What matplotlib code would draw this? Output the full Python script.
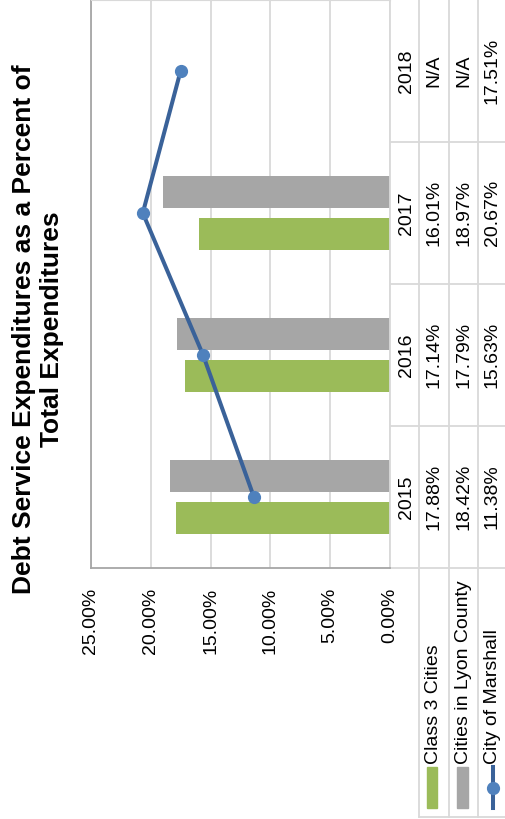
import numpy as np
import matplotlib.pyplot as plt
from matplotlib.transforms import blended_transform_factory
from matplotlib.patches import Rectangle

plt.rcParams['font.family'] = ['Liberation Sans', 'DejaVu Sans']

# data
years = ["2015", "2016", "2017", "2018"]
class3 = [17.88, 17.14, 16.01, np.nan]
lyon = [18.42, 17.79, 18.97, np.nan]
marshall = [11.38, 15.63, 20.67, 17.51]
series_names = ["Class 3 Cities", "Cities in Lyon County", "City of Marshall"]
value_ticks = [0, 5, 10, 15, 20, 25]
title = "Debt Service Expenditures as a Percent of\nTotal Expenditures"

GREEN = "#9BBB59"
GRAY = "#A6A6A6"
LINE = "#3A6299"
MARK = "#4F81BD"
GRID = "#D9D9D9"
BORDER = "#A6A6A6"
FS = 14

W, H = 505, 819
fig = plt.figure(figsize=(W / 100, H / 100), dpi=100)


def box(x0, y0, x1, y1):
    return [x0 / W, 1 - y1 / H, (x1 - x0) / W, (y1 - y0) / H]


# overlay in pixel coordinates (table, legend, title)
ov = fig.add_axes([0, 0, 1, 1])
ov.set_xlim(0, W)
ov.set_ylim(H, 0)
ov.axis("off")

# --- main chart (rotated: categories run upward, values leftward) ---
ax = fig.add_axes(box(91, 0, 390, 568))
pos = np.arange(len(years))
bw, off = 0.225, 0.145
ax.barh(pos - off, class3, height=bw, color=GREEN, zorder=2)
ax.barh(pos + off, lyon, height=bw, color=GRAY, zorder=2)
ax.plot(marshall, pos, color=LINE, lw=2.9, marker="o", ms=8.5,
        mfc=MARK, mec=MARK, zorder=3, solid_capstyle="round")

ax.set_xlim(25, 0)
ax.set_ylim(-0.5, len(years) - 0.5)
ax.set_xticks(value_ticks)
ax.set_xticklabels([f"{v:.2f}%" for v in value_ticks], rotation=90, fontsize=FS)
ax.set_yticks([])
ax.tick_params(length=0, pad=14)
ax.grid(axis="x", color=GRID, lw=1.3)
ax.set_axisbelow(True)
for s in ["left", "bottom"]:
    ax.spines[s].set_color(BORDER)
    ax.spines[s].set_linewidth(1.3)
ax.spines["right"].set_color(GRID)
ax.spines["right"].set_linewidth(1.3)
ax.spines["top"].set_color(GRID)

# --- data table on the right ---
tr = blended_transform_factory(ov.transData, ax.transData)
col_x = [391, 419, 449, 478, 507]
col_c = [(a + b) / 2 for a, b in zip(col_x[:-1], col_x[1:])]
for x in col_x[1:4]:
    ov.plot([x, x], [0, 817], color=GRID, lw=1.3)
for b in np.arange(len(years) - 1) + 0.5:
    ov.plot([391, W], [b, b], color=GRID, lw=1.3, transform=tr)
ov.plot([391, W], [568, 568], color=GRID, lw=1.3)
ov.plot([419, W], [817, 817], color=GRID, lw=1.3)


def fmt(v):
    return "N/A" if np.isnan(v) else f"{v:.2f}%"


for i, yr in enumerate(years):
    ov.text(col_c[0] + 1, i, yr, rotation=90, ha="center", va="center",
            fontsize=FS, transform=tr)
    for j, vals in enumerate([class3, lyon, marshall]):
        ov.text(col_c[j + 1], i, fmt(vals[i]), rotation=90,
                ha="center", va="center", fontsize=FS, transform=tr)

# legend keys in the row headers
ov.add_patch(Rectangle((427, 767), 10, 41, color=GREEN))
ov.add_patch(Rectangle((457, 767), 11, 41, color=GRAY))
ov.plot([493, 493], [767, 808], color=LINE, lw=2.9)
ov.plot([493], [788], marker="o", ms=8.5, color=MARK)
for c, name in zip(col_c[1:], series_names):
    ov.text(c, 764, name, rotation=90, ha="center", va="bottom", fontsize=FS)

# title
ov.text(38, 329, title, rotation=90, ha="center", va="center",
        fontsize=19, fontweight="bold", multialignment="center", linespacing=1.25)

fig.savefig("out.png", dpi=100)
